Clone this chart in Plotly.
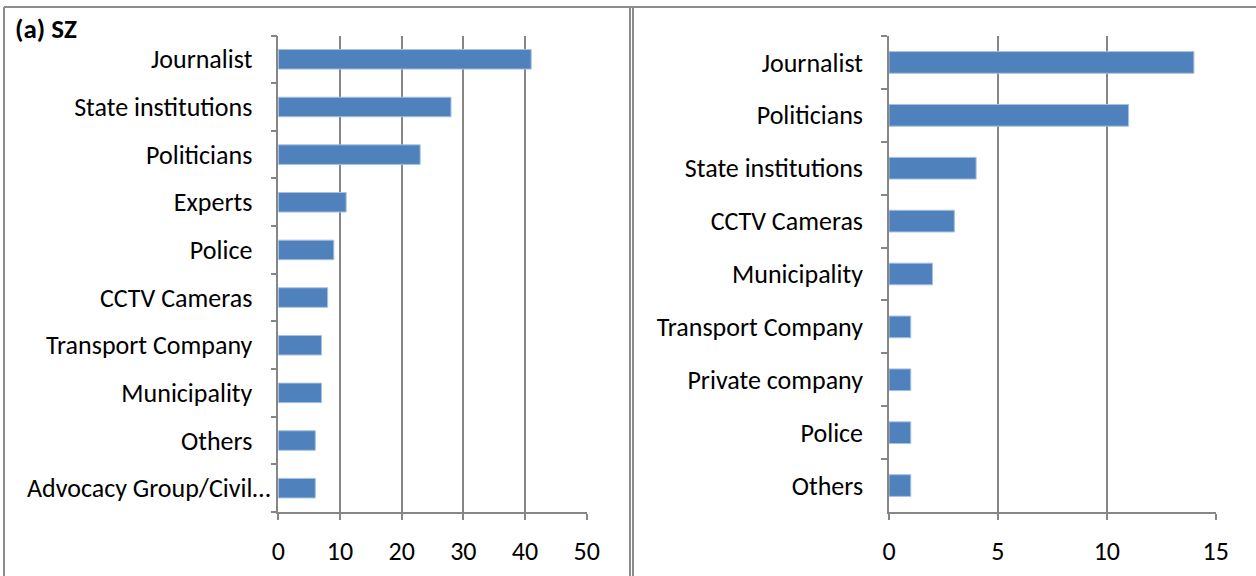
import plotly.graph_objects as go

# Panel (a) SZ
left_categories = ["Journalist", "State institutions", "Politicians", "Experts", "Police",
                   "CCTV Cameras", "Transport Company", "Municipality", "Others",
                   "Advocacy Group/Civil…"]
left_values = [41, 28, 23, 11, 9, 8, 7, 7, 6, 6]
left_ticks = [0, 10, 20, 30, 40, 50]

# Right panel
right_categories = ["Journalist", "Politicians", "State institutions", "CCTV Cameras",
                    "Municipality", "Transport Company", "Private company", "Police", "Others"]
right_values = [14, 11, 4, 3, 2, 1, 1, 1, 1]
right_ticks = [0, 5, 10, 15]

W, H = 1256, 576
BAR = "#4F81BD"
GRID = "#868686"
FONT = "Carlito, Lato, sans-serif"

def px(x):
    return x / W

def py(y):
    return 1 - y / H

fig = go.Figure()
fig.add_trace(go.Bar(x=left_values, y=left_categories, orientation="h",
                     marker=dict(color=BAR, line=dict(color="#A7C0DE", width=1)),
                     xaxis="x", yaxis="y", showlegend=False, hoverinfo="skip"))
fig.add_trace(go.Bar(x=right_values, y=right_categories, orientation="h",
                     marker=dict(color=BAR, line=dict(color="#A7C0DE", width=1)),
                     xaxis="x2", yaxis="y2", showlegend=False, hoverinfo="skip"))

xcommon = dict(showgrid=True, gridcolor=GRID, gridwidth=1.5, showline=True, linecolor=GRID,
               linewidth=1.5, ticks="outside", ticklen=6, tickcolor=GRID, tickwidth=1.5,
               zeroline=False, tickfont=dict(family=FONT, size=26, color="black"),
               ticklabelstandoff=9, automargin=False)
ycommon = dict(type="category", showgrid=False, showline=True, linecolor=GRID, linewidth=1.5,
               ticks="outside", ticklen=6, tickcolor=GRID, tickwidth=1.5, tickson="boundaries",
               autorange="reversed", tickfont=dict(family=FONT, size=26, color="black"),
               ticklabelstandoff=19, automargin=False)

# the truncated last label sits closer to the axis in the original, so it is drawn separately
left_ticktext = [c if c != "Advocacy Group/Civil…" else "" for c in left_categories]

fig.update_layout(
    width=W, height=H, margin=dict(l=0, r=0, t=0, b=0, pad=0),
    paper_bgcolor="white", plot_bgcolor="white", bargap=0.59,
    xaxis=dict(domain=[px(278.3), px(586.7)], range=[0, 50], tickvals=left_ticks,
               anchor="y", **xcommon),
    yaxis=dict(domain=[py(512), py(35.5)], anchor="x", tickvals=left_categories,
               ticktext=left_ticktext, **ycommon),
    xaxis2=dict(domain=[px(889), px(1215.7)], range=[0, 15], tickvals=right_ticks,
                anchor="y2", **xcommon),
    yaxis2=dict(domain=[py(512), py(36)], anchor="x2", **ycommon),
)

fig.add_annotation(text=left_categories[-1], xref="paper", yref="y", x=px(272),
                   y=left_categories[-1], xanchor="right", yanchor="middle", showarrow=False,
                   font=dict(family=FONT, size=26, color="black"))

fig.add_annotation(text="<b>(a) SZ</b>", xref="paper", yref="paper", x=px(13), y=py(29),
                   xanchor="left", yanchor="middle", showarrow=False,
                   font=dict(family=FONT, size=27, color="black"))

border = dict(color="#8C8C8C", width=2)
fig.add_shape(type="line", xref="paper", yref="paper", x0=px(4), x1=px(4), y0=py(7), y1=0, line=border)
fig.add_shape(type="line", xref="paper", yref="paper", x0=px(4), x1=1, y0=py(7), y1=py(7), line=border)
fig.add_shape(type="line", xref="paper", yref="paper", x0=px(630), x1=px(630), y0=py(7), y1=0, line=border)
fig.add_shape(type="line", xref="paper", yref="paper", x0=px(633), x1=px(633), y0=py(7), y1=0, line=border)

fig.write_html("out.html", config={"displayModeBar": False},
               post_script="document.body.style.margin='0';document.body.style.overflow='hidden';")
